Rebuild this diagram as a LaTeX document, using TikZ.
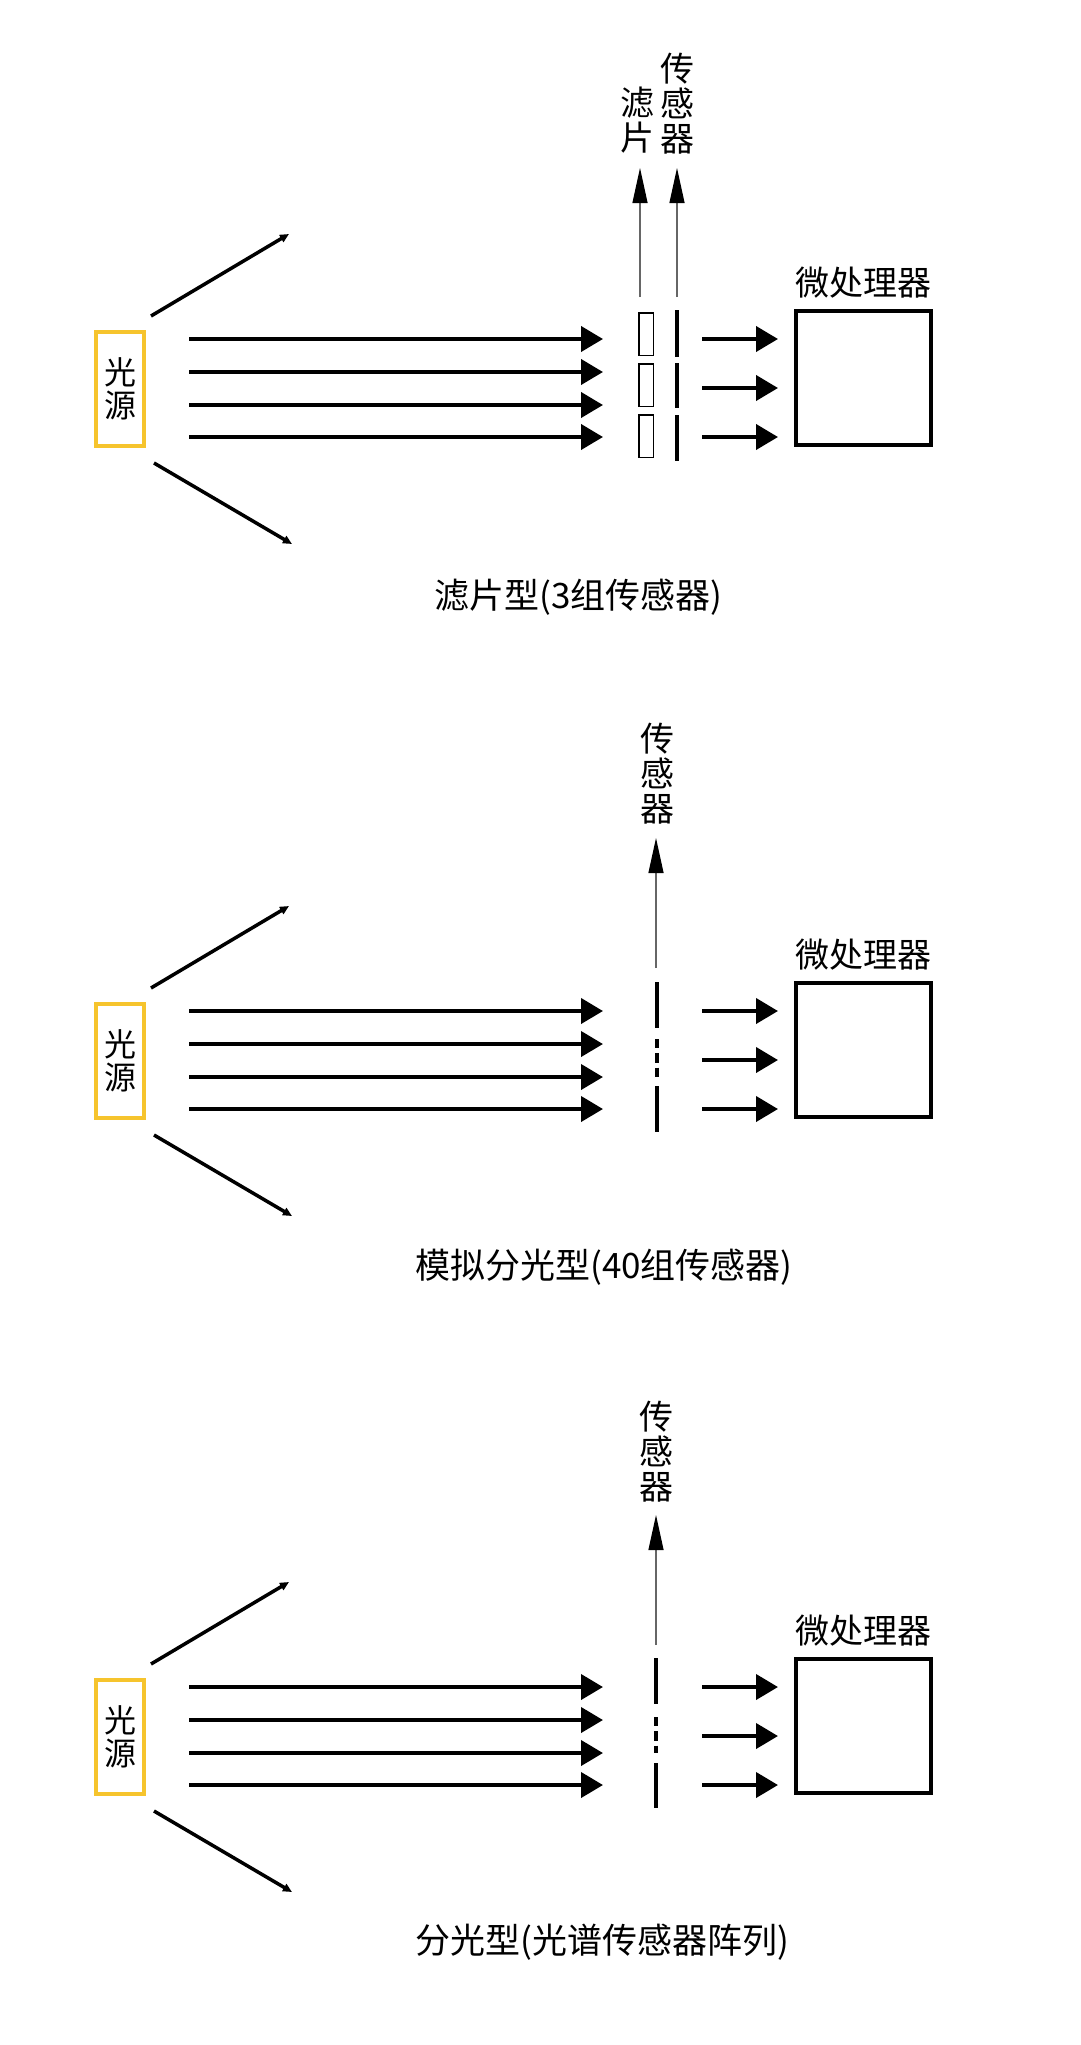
\documentclass[tikz,border=0pt]{standalone}
\usepackage{fontspec}
\setmainfont{Noto Sans CJK SC}
\usetikzlibrary{arrows.meta,positioning}
\definecolor{srcyellow}{RGB}{246,196,45}

\begin{document}
\begin{tikzpicture}[x=1pt,y=-1pt,>={Triangle[length=22pt,width=25pt]}]
  \tikzset{every node/.style={inner sep=0pt,align=center,font=\fontsize{34}{35}\selectfont},
    src/.style={draw=srcyellow,line width=4pt,minimum width=48pt,minimum height=114pt,
      font=\fontsize{32}{33}\selectfont},
    cpu/.style={draw,line width=4pt,minimum width=135pt,minimum height=134pt},
    filt/.style={draw,line width=1.5pt,minimum width=14.5pt,minimum height=42.5pt},
    caption/.style={anchor=west,font=\fontsize{35}{36}\selectfont},
    ray/.style={->,line width=4pt},
    fan/.style={-{Triangle[length=9pt,width=8pt]},line width=3.5pt},
    lead/.style={-{Triangle[length=35pt,width=15pt,color=black]},draw=black!60,line width=1.2pt},
    sens/.style={line width=4.5pt},
    dots/.style={line width=4.5pt,dash pattern=on 9.3pt off 5pt}}
  \useasboundingbox (0,0) rectangle (1080,2045);

  \foreach \p/\dy in {1/0,2/672,3/1348} {
    \node[src] (src\p) at (120,389+\dy) {光\\源};
    \node[cpu] (cpu\p) at (863.5,378+\dy) {};
    \node[above=11pt of cpu\p] (cpulab\p) {微处理器};
    \coordinate (up\p a) at (151,316+\dy);
    \coordinate (up\p b) at (289,234+\dy);
    \coordinate (dn\p a) at (154,463+\dy);
    \coordinate (dn\p b) at (292,544+\dy);
    \path[fan] (up\p a) edge (up\p b) (dn\p a) edge (dn\p b);
    \foreach \i/\y in {1/339,2/372,3/405,4/437} {
      \coordinate (in\p\i) at (189,\y+\dy);
      \coordinate (hit\p\i) at (603,\y+\dy);
      \draw[ray] (in\p\i) -- (hit\p\i);
    }
    \foreach \i/\y in {1/339,2/388,3/437} {
      \coordinate (out\p\i) at (702,\y+\dy);
      \draw[ray,shorten >=16pt] (out\p\i) -- (cpu\p.west |- out\p\i);
    }
  }

  % filter type
  \node[filt] (f1) at (646,334) {};
  \node[filt] (f2) at (646,385) {};
  \node[filt] (f3) at (646,436) {};
  \draw[sens] (677,310) -- (677,357) (677,363) -- (677,408) (677,415) -- (677,461);
  \node (filtlab) at (637,120) {滤\\片};
  \node (senslab1) at (677,104) {传\\感\\器};
  \coordinate (ftop) at (640,297);
  \coordinate (stop1) at (677,297);
  \draw[lead] (ftop) -- (ftop |- 0,168);
  \draw[lead] (stop1) -- (stop1 |- 0,168);
  \node[caption] (cap1) at (434,597) {滤片型(3组传感器)};

  % analog type
  \draw[sens] (657,982) -- (657,1028) (657,1086) -- (657,1132);
  \draw[dots] (657,1039) -- (657,1077);
  \node (senslab2) at (657,774) {传\\感\\器};
  \coordinate (stop2) at (656,968);
  \draw[lead] (stop2) -- (stop2 |- 0,838);
  \node[caption] (cap2) at (415,1267) {模拟分光型(40组传感器)};

  % spectral array type
  \draw[sens] (656,1658) -- (656,1704) (656,1763) -- (656,1808);
  \draw[dots] (656,1717) -- (656,1753);
  \node (senslab3) at (656,1452) {传\\感\\器};
  \coordinate (stop3) at (656,1645);
  \draw[lead] (stop3) -- (stop3 |- 0,1515);
  \node[caption] (cap3) at (415,1942) {分光型(光谱传感器阵列)};
\end{tikzpicture}
\end{document}
